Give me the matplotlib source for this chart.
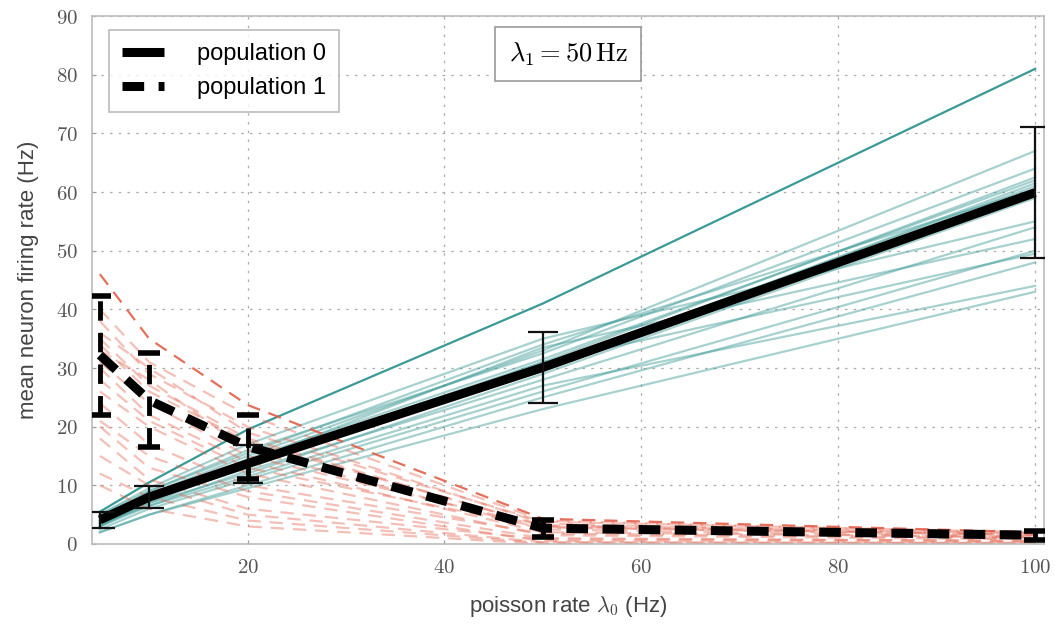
import numpy as np
import matplotlib.pyplot as plt

plt.rcParams["mathtext.fontset"] = "cm"
plt.rcParams["font.family"] = "Liberation Sans"

# poisson input rates (Hz)
rates = [5, 10, 20, 50, 100]

# firing rate of single neurons, population 0
pop0_neurons = [
    [5.5, 10.5, 19.5, 41.0, 81.0],
    [4.5, 8.5, 15.0, 33.0, 67.0],
    [5.0, 9.0, 16.0, 32.5, 64.0],
    [4.0, 8.0, 14.0, 31.0, 62.5],
    [3.5, 7.5, 14.5, 31.5, 62.0],
    [4.5, 8.0, 13.0, 30.0, 61.5],
    [3.0, 7.0, 13.5, 30.5, 61.0],
    [4.0, 9.0, 15.5, 34.0, 60.5],
    [3.5, 7.0, 12.0, 29.0, 59.0],
    [5.0, 9.5, 17.0, 35.0, 55.0],
    [3.0, 6.5, 12.5, 28.0, 54.0],
    [4.0, 8.0, 14.0, 33.5, 52.0],
    [2.5, 6.0, 11.0, 26.0, 50.0],
    [3.0, 7.5, 13.0, 31.0, 49.5],
    [2.0, 5.0, 10.0, 25.0, 48.0],
    [3.5, 6.5, 11.5, 27.0, 44.0],
    [2.0, 5.0, 9.5, 23.0, 43.0],
]

# firing rate of single neurons, population 1
pop1_neurons = [
    [46.0, 35.0, 23.7, 4.3, 2.0],
    [40.0, 31.0, 22.0, 4.0, 1.8],
    [38.0, 29.0, 20.0, 3.5, 1.5],
    [36.0, 30.0, 19.0, 3.8, 2.0],
    [35.0, 27.0, 18.0, 3.0, 1.2],
    [34.0, 26.0, 17.5, 3.2, 1.8],
    [33.0, 28.0, 16.0, 2.5, 1.0],
    [31.0, 24.0, 15.0, 3.0, 1.5],
    [30.0, 22.0, 14.0, 2.0, 1.2],
    [28.0, 21.0, 13.0, 2.8, 1.6],
    [26.0, 20.0, 12.0, 1.5, 0.8],
    [24.0, 17.0, 10.0, 1.8, 1.0],
    [21.0, 15.0, 9.0, 1.0, 0.5],
    [20.0, 13.0, 8.0, 0.5, 0.3],
    [18.0, 11.0, 6.0, 0.8, 0.6],
    [15.0, 10.0, 5.0, 0.3, 0.2],
    [12.0, 8.0, 4.0, 0.2, 0.1],
    [10.0, 6.0, 3.0, 0.0, 0.0],
]

# population means and standard deviations
pop0_mean = [4.1, 8.0, 13.7, 30.1, 59.9]
pop0_std = [1.35, 1.85, 3.25, 6.05, 11.15]
pop1_mean = [32.2, 24.5, 16.6, 2.7, 1.5]
pop1_std = [10.15, 8.0, 5.45, 1.45, 0.8]

x_ticks = [20, 40, 60, 80, 100]
y_ticks = [0, 10, 20, 30, 40, 50, 60, 70, 80, 90]

teal = "#3a9a96"
red = "#e2604a"

fig = plt.figure(figsize=(10.55, 6.26), dpi=100)
ax = fig.add_axes([0.0872, 0.131, 0.9024, 0.8434])

for i, n in enumerate(pop0_neurons):
    ax.plot(rates, n, color=teal, lw=1.6, alpha=1.0 if i == 0 else 0.45, zorder=2)
for i, n in enumerate(pop1_neurons):
    ax.plot(rates, n, color=red, lw=1.6, alpha=0.9 if i == 0 else 0.4,
            dashes=(6, 4), zorder=2)

ax.plot(rates, pop0_mean, color="black", lw=6.5, solid_capstyle="butt",
        label="population 0", zorder=4)
ax.errorbar(rates, pop0_mean, yerr=pop0_std, fmt="none", ecolor="#111111",
            elinewidth=1.6, capsize=11, capthick=1.6, zorder=5)

ax.plot(rates, pop1_mean, color="black", lw=6.5, dashes=(2.4, 1.6),
        label="population 1", zorder=4)
eb = ax.errorbar(rates, pop1_mean, yerr=pop1_std, fmt="none", ecolor="black",
                 elinewidth=3.5, capsize=8, capthick=4, zorder=5)
eb[2][0].set_linestyle((0, (4, 2.5)))

ax.set_xlim(4.2, 100.9)
ax.set_ylim(0, 90)
ax.set_xticks(x_ticks)
ax.set_xticklabels([f"${t}$" for t in x_ticks])
ax.set_yticks(y_ticks)
ax.set_yticklabels([f"${t}$" for t in y_ticks])
ax.tick_params(direction="in", length=3, color="#999999", labelsize=15,
               labelcolor="#555555", pad=10)

ax.grid(True, color="#aaaaaa", lw=0.9, dashes=(2, 5))
for s in ax.spines.values():
    s.set_color("#bbbbbb")
    s.set_linewidth(1.2)

ax.set_xlabel(r"poisson rate $\lambda_0$ (Hz)", fontsize=16, color="#444444",
              labelpad=12)
ax.set_ylabel("mean neuron firing rate (Hz)", fontsize=16, color="#444444",
              labelpad=12)

leg = ax.legend(loc="upper left", fontsize=17, fancybox=False,
                handlelength=1.8, handletextpad=1.4, borderpad=0.55,
                labelspacing=0.5, bbox_to_anchor=(0.005, 0.995))
leg.get_frame().set_edgecolor("#aaaaaa")
leg.get_frame().set_linewidth(1.2)

ax.text(0.5, 0.928, r"$\lambda_1 = 50\,\mathrm{Hz}$", transform=ax.transAxes,
        ha="center", va="center", fontsize=19,
        bbox=dict(boxstyle="square,pad=0.5", fc="white", ec="#999999", lw=1.2))

fig.savefig("out.png", dpi=100)
